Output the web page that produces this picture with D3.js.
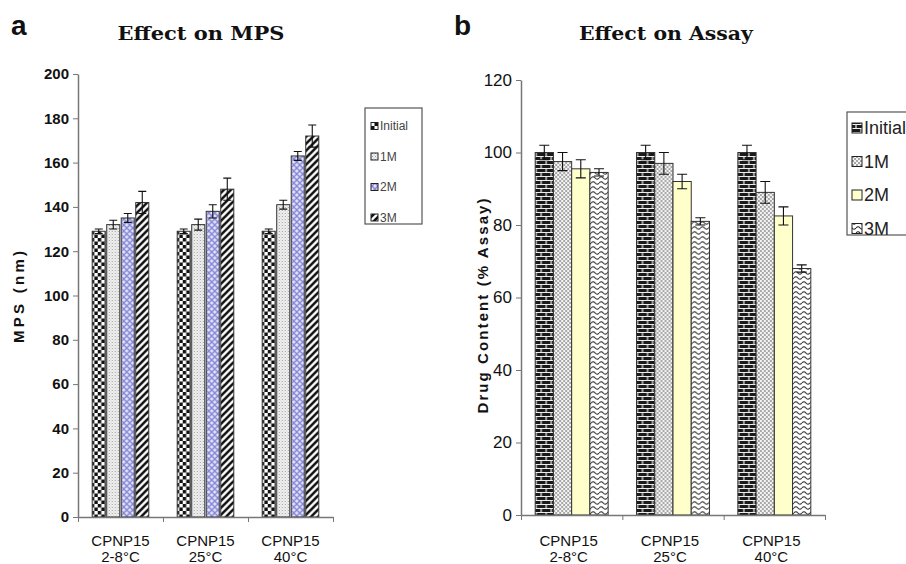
<!DOCTYPE html>
<html>
<head>
<meta charset="utf-8">
<script src="https://cdn.jsdelivr.net/npm/d3@7"></script>
<style>
  body { margin: 0; background: #fff; }
  svg { display: block; }
</style>
</head>
<body>
<svg id="visu" width="906" height="564"></svg>
<script>
// categories and series
var groupLine1 = ["CPNP15", "CPNP15", "CPNP15"];
var groupLine2 = ["2-8°C", "25°C", "40°C"];
var seriesNames = ["Initial", "1M", "2M", "3M"];

// panel a : mean particle size (nm), one array per storage condition
var mps28 = [129, 132, 135, 142];
var mps25 = [129, 132, 138, 148];
var mps40 = [129, 141, 163, 172];
var mpsErr28 = [1, 2, 2, 5];
var mpsErr25 = [1, 2.5, 3, 5];
var mpsErr40 = [1, 2, 2, 5];
var mpsTicks = [0, 20, 40, 60, 80, 100, 120, 140, 160, 180, 200];

// panel b : drug content (% assay)
var assay28 = [100, 97.5, 95.5, 94.5];
var assay25 = [100, 97, 92, 81];
var assay40 = [100, 89, 82.5, 68];
var assayErr28 = [2, 2.5, 2.5, 1];
var assayErr25 = [2, 3, 2, 1];
var assayErr40 = [2, 3, 2.5, 1];
var assayTicks = [0, 20, 40, 60, 80, 100, 120];

var svg = d3.select("#visu");
var defs = svg.append("defs");

function makePattern(id, w, h, draw) {
  var p = defs.append("pattern")
    .attr("id", id)
    .attr("patternUnits", "userSpaceOnUse")
    .attr("width", w)
    .attr("height", h);
  draw(p);
}

// panel a patterns
makePattern("pChecker", 7, 7, function (p) {
  p.append("rect").attr("width", 7).attr("height", 7).attr("fill", "#fff");
  p.append("rect").attr("width", 3.5).attr("height", 3.5).attr("fill", "#111");
  p.append("rect").attr("x", 3.5).attr("y", 3.5).attr("width", 3.5).attr("height", 3.5).attr("fill", "#111");
});
makePattern("pStipple", 3, 3, function (p) {
  p.append("rect").attr("width", 3).attr("height", 3).attr("fill", "#f2f2f2");
  p.append("rect").attr("width", 1).attr("height", 1).attr("fill", "#999");
  p.append("rect").attr("x", 1.5).attr("y", 1.5).attr("width", 1).attr("height", 1).attr("fill", "#bbb");
});
makePattern("pLattice", 6, 6, function (p) {
  p.append("rect").attr("width", 6).attr("height", 6).attr("fill", "#e2e2f8");
  p.append("path").attr("d", "M0 0 L6 6 M6 0 L0 6").attr("stroke", "#8686d6").attr("stroke-width", 1.4);
});
makePattern("pStripe", 7, 7, function (p) {
  p.append("rect").attr("width", 7).attr("height", 7).attr("fill", "#fff");
  p.append("path").attr("d", "M-1 8 L8 -1 M-4.5 4.5 L4.5 -4.5 M2.5 11.5 L11.5 2.5").attr("stroke", "#111").attr("stroke-width", 2.6);
});

// panel b patterns
makePattern("pBrick", 10, 8, function (p) {
  p.append("rect").attr("width", 10).attr("height", 8).attr("fill", "#1a1a1a");
  p.append("path").attr("d", "M0 0.5 H10 M0 4.5 H10 M1 0 V4 M6 4 V8")
    .attr("stroke", "#eee").attr("stroke-width", 1.2);
});
makePattern("pFineCheck", 4, 4, function (p) {
  p.append("rect").attr("width", 4).attr("height", 4).attr("fill", "#f4f4f4");
  p.append("rect").attr("width", 2).attr("height", 2).attr("fill", "#a8a8a8");
  p.append("rect").attr("x", 2).attr("y", 2).attr("width", 2).attr("height", 2).attr("fill", "#a8a8a8");
});
makePattern("pWave", 8, 5, function (p) {
  p.append("rect").attr("width", 8).attr("height", 5).attr("fill", "#fff");
  p.append("path").attr("d", "M0 3 Q2 0.5 4 3 T8 3").attr("fill", "none")
    .attr("stroke", "#222").attr("stroke-width", 1.1);
});

var fillsA = ["url(#pChecker)", "url(#pStipple)", "url(#pLattice)", "url(#pStripe)"];
var fillsB = ["url(#pBrick)", "url(#pFineCheck)", "#ffffcc", "url(#pWave)"];

function drawPanel(cfg) {
  var g = svg.append("g");
  var y = d3.scaleLinear().domain([0, cfg.max]).range([cfg.bottom, cfg.top]);
  var x0 = d3.scaleBand().domain(d3.range(3)).range([cfg.left, cfg.right])
    .paddingInner(cfg.pad).paddingOuter(cfg.pad / 2);
  var x1 = d3.scaleBand().domain(d3.range(4)).range([0, x0.bandwidth()]).padding(cfg.barPad);
  var xb = d3.scaleLinear().domain([0, 3]).range([cfg.left, cfg.right]);

  // bars
  cfg.values.forEach(function (vals, gi) {
    var grp = g.append("g").attr("transform", "translate(" + x0(gi) + ",0)");
    grp.selectAll("rect").data(vals).enter().append("rect")
      .attr("x", function (d, i) { return x1(i); })
      .attr("y", function (d) { return y(d); })
      .attr("width", x1.bandwidth())
      .attr("height", function (d) { return y(0) - y(d); })
      .attr("fill", function (d, i) { return cfg.fills[i]; })
      .attr("stroke", "#333")
      .attr("stroke-width", 1);
    // error bars
    var errs = cfg.errors[gi];
    vals.forEach(function (v, i) {
      var cx = x1(i) + x1.bandwidth() / 2;
      var e = errs[i];
      grp.append("path")
        .attr("d", "M" + cx + " " + y(v - e) + " V" + y(v + e) +
          " M" + (cx - cfg.cap) + " " + y(v + e) + " H" + (cx + cfg.cap) +
          " M" + (cx - cfg.cap) + " " + y(v - e) + " H" + (cx + cfg.cap))
        .attr("stroke", "#111")
        .attr("stroke-width", 1.1)
        .attr("fill", "none");
    });
  });

  // y axis
  var ya = g.append("g").attr("transform", "translate(" + cfg.left + ",0)")
    .call(d3.axisLeft(y).tickValues(cfg.ticks).tickSize(5).tickSizeOuter(0).tickPadding(4));
  ya.select(".domain").attr("stroke", "#777").attr("stroke-width", 1.5);
  ya.selectAll(".tick line").attr("stroke", "#777");
  ya.selectAll(".tick text")
    .attr("fill", "#111")
    .style("font-family", "'Liberation Sans', Arial, sans-serif")
    .style("font-size", cfg.tickFont + "px")
    .style("font-weight", cfg.tickWeight);

  // x axis with boundary ticks
  var xa = g.append("g").attr("transform", "translate(0," + cfg.bottom + ")")
    .call(d3.axisBottom(xb).tickValues([0, 1, 2, 3]).tickFormat("").tickSize(5).tickSizeOuter(0));
  xa.select(".domain").attr("stroke", "#777").attr("stroke-width", 1.5);
  xa.selectAll(".tick line").attr("stroke", "#777");

  // category labels
  var lab = g.append("g").selectAll("text").data(groupLine1).enter().append("text")
    .attr("x", function (d, i) { return x0(i) + x0.bandwidth() / 2 + cfg.labelShift; })
    .attr("y", 546)
    .attr("text-anchor", "middle")
    .style("font-family", "'Liberation Sans', Arial, sans-serif")
    .style("font-size", "15px")
    .attr("fill", "#111");
  lab.append("tspan").text(function (d) { return d; });
  lab.append("tspan")
    .attr("x", function (d, i) { return x0(i) + x0.bandwidth() / 2 + cfg.labelShift; })
    .attr("dy", 16)
    .text(function (d, i) { return groupLine2[i]; });

  // y axis title
  svg.append("text")
    .attr("transform", "translate(" + cfg.ytX + "," + cfg.ytY + ") rotate(-90)")
    .attr("text-anchor", "middle")
    .attr("textLength", cfg.ytLen)
    .attr("lengthAdjust", "spacing")
    .style("font-family", "'Liberation Sans', Arial, sans-serif")
    .style("font-size", cfg.ytFont + "px")
    .style("font-weight", "bold")
    .attr("fill", "#111")
    .text(cfg.yTitle);

  // title and panel letter
  svg.append("text")
    .attr("x", cfg.titleX).attr("y", 40)
    .attr("text-anchor", "middle")
    .attr("textLength", cfg.titleLen)
    .attr("lengthAdjust", "spacingAndGlyphs")
    .style("font-family", "'DejaVu Serif', 'Liberation Serif', serif")
    .style("font-size", "19px")
    .style("font-weight", "bold")
    .attr("fill", "#111")
    .text(cfg.title);
  svg.append("text")
    .attr("x", cfg.letterX).attr("y", 35)
    .style("font-family", "'Liberation Sans', Arial, sans-serif")
    .style("font-size", "28px")
    .style("font-weight", "bold")
    .attr("fill", "#111")
    .text(cfg.letter);

  // legend
  var L = cfg.legend;
  var lg = svg.append("g");
  lg.append("rect")
    .attr("x", L.x).attr("y", L.y).attr("width", L.w).attr("height", L.h)
    .attr("fill", "#fff").attr("stroke", "#555").attr("stroke-width", 1.2);
  seriesNames.forEach(function (name, i) {
    var cy = L.y + L.first + i * L.step;
    lg.append("rect")
      .attr("x", L.x + L.sx).attr("y", cy - L.sw / 2)
      .attr("width", L.sw).attr("height", L.sw)
      .attr("fill", cfg.fills[i]).attr("stroke", "#222").attr("stroke-width", 1);
    lg.append("text")
      .attr("x", L.x + L.sx + L.sw + 2).attr("y", cy)
      .attr("dy", "0.36em")
      .style("font-family", "'Liberation Sans', Arial, sans-serif")
      .style("font-size", L.font + "px")
      .attr("fill", L.color)
      .text(name);
  });
}

drawPanel({
  values: [mps28, mps25, mps40],
  errors: [mpsErr28, mpsErr25, mpsErr40],
  fills: fillsA,
  max: 200, ticks: mpsTicks,
  left: 78, right: 333, top: 74, bottom: 517,
  pad: 0.3, barPad: 0.1, cap: 4,
  tickFont: 15, tickWeight: "bold",
  labelShift: 0,
  yTitle: "MPS (nm)", ytX: 24, ytY: 297, ytLen: 92, ytFont: 15,
  title: "Effect on MPS", titleX: 201, titleLen: 167,
  letter: "a", letterX: 11,
  legend: { x: 365, y: 108, w: 57, h: 116, first: 18, step: 30.5, sx: 6, sw: 7, font: 12, color: "#444" }
});

drawPanel({
  values: [assay28, assay25, assay40],
  errors: [assayErr28, assayErr25, assayErr40],
  fills: fillsB,
  max: 120, ticks: assayTicks,
  left: 521, right: 825, top: 80, bottom: 515,
  pad: 0.28, barPad: 0, cap: 5,
  tickFont: 17, tickWeight: "normal",
  labelShift: -3,
  yTitle: "Drug Content (% Assay)", ytX: 488, ytY: 306, ytLen: 215, ytFont: 15,
  title: "Effect on Assay", titleX: 666, titleLen: 174,
  letter: "b", letterX: 454,
  legend: { x: 847, y: 112, w: 80, h: 123, first: 16, step: 33.5, sx: 5, sw: 10, font: 18, color: "#222" }
});
</script>
</body>
</html>
